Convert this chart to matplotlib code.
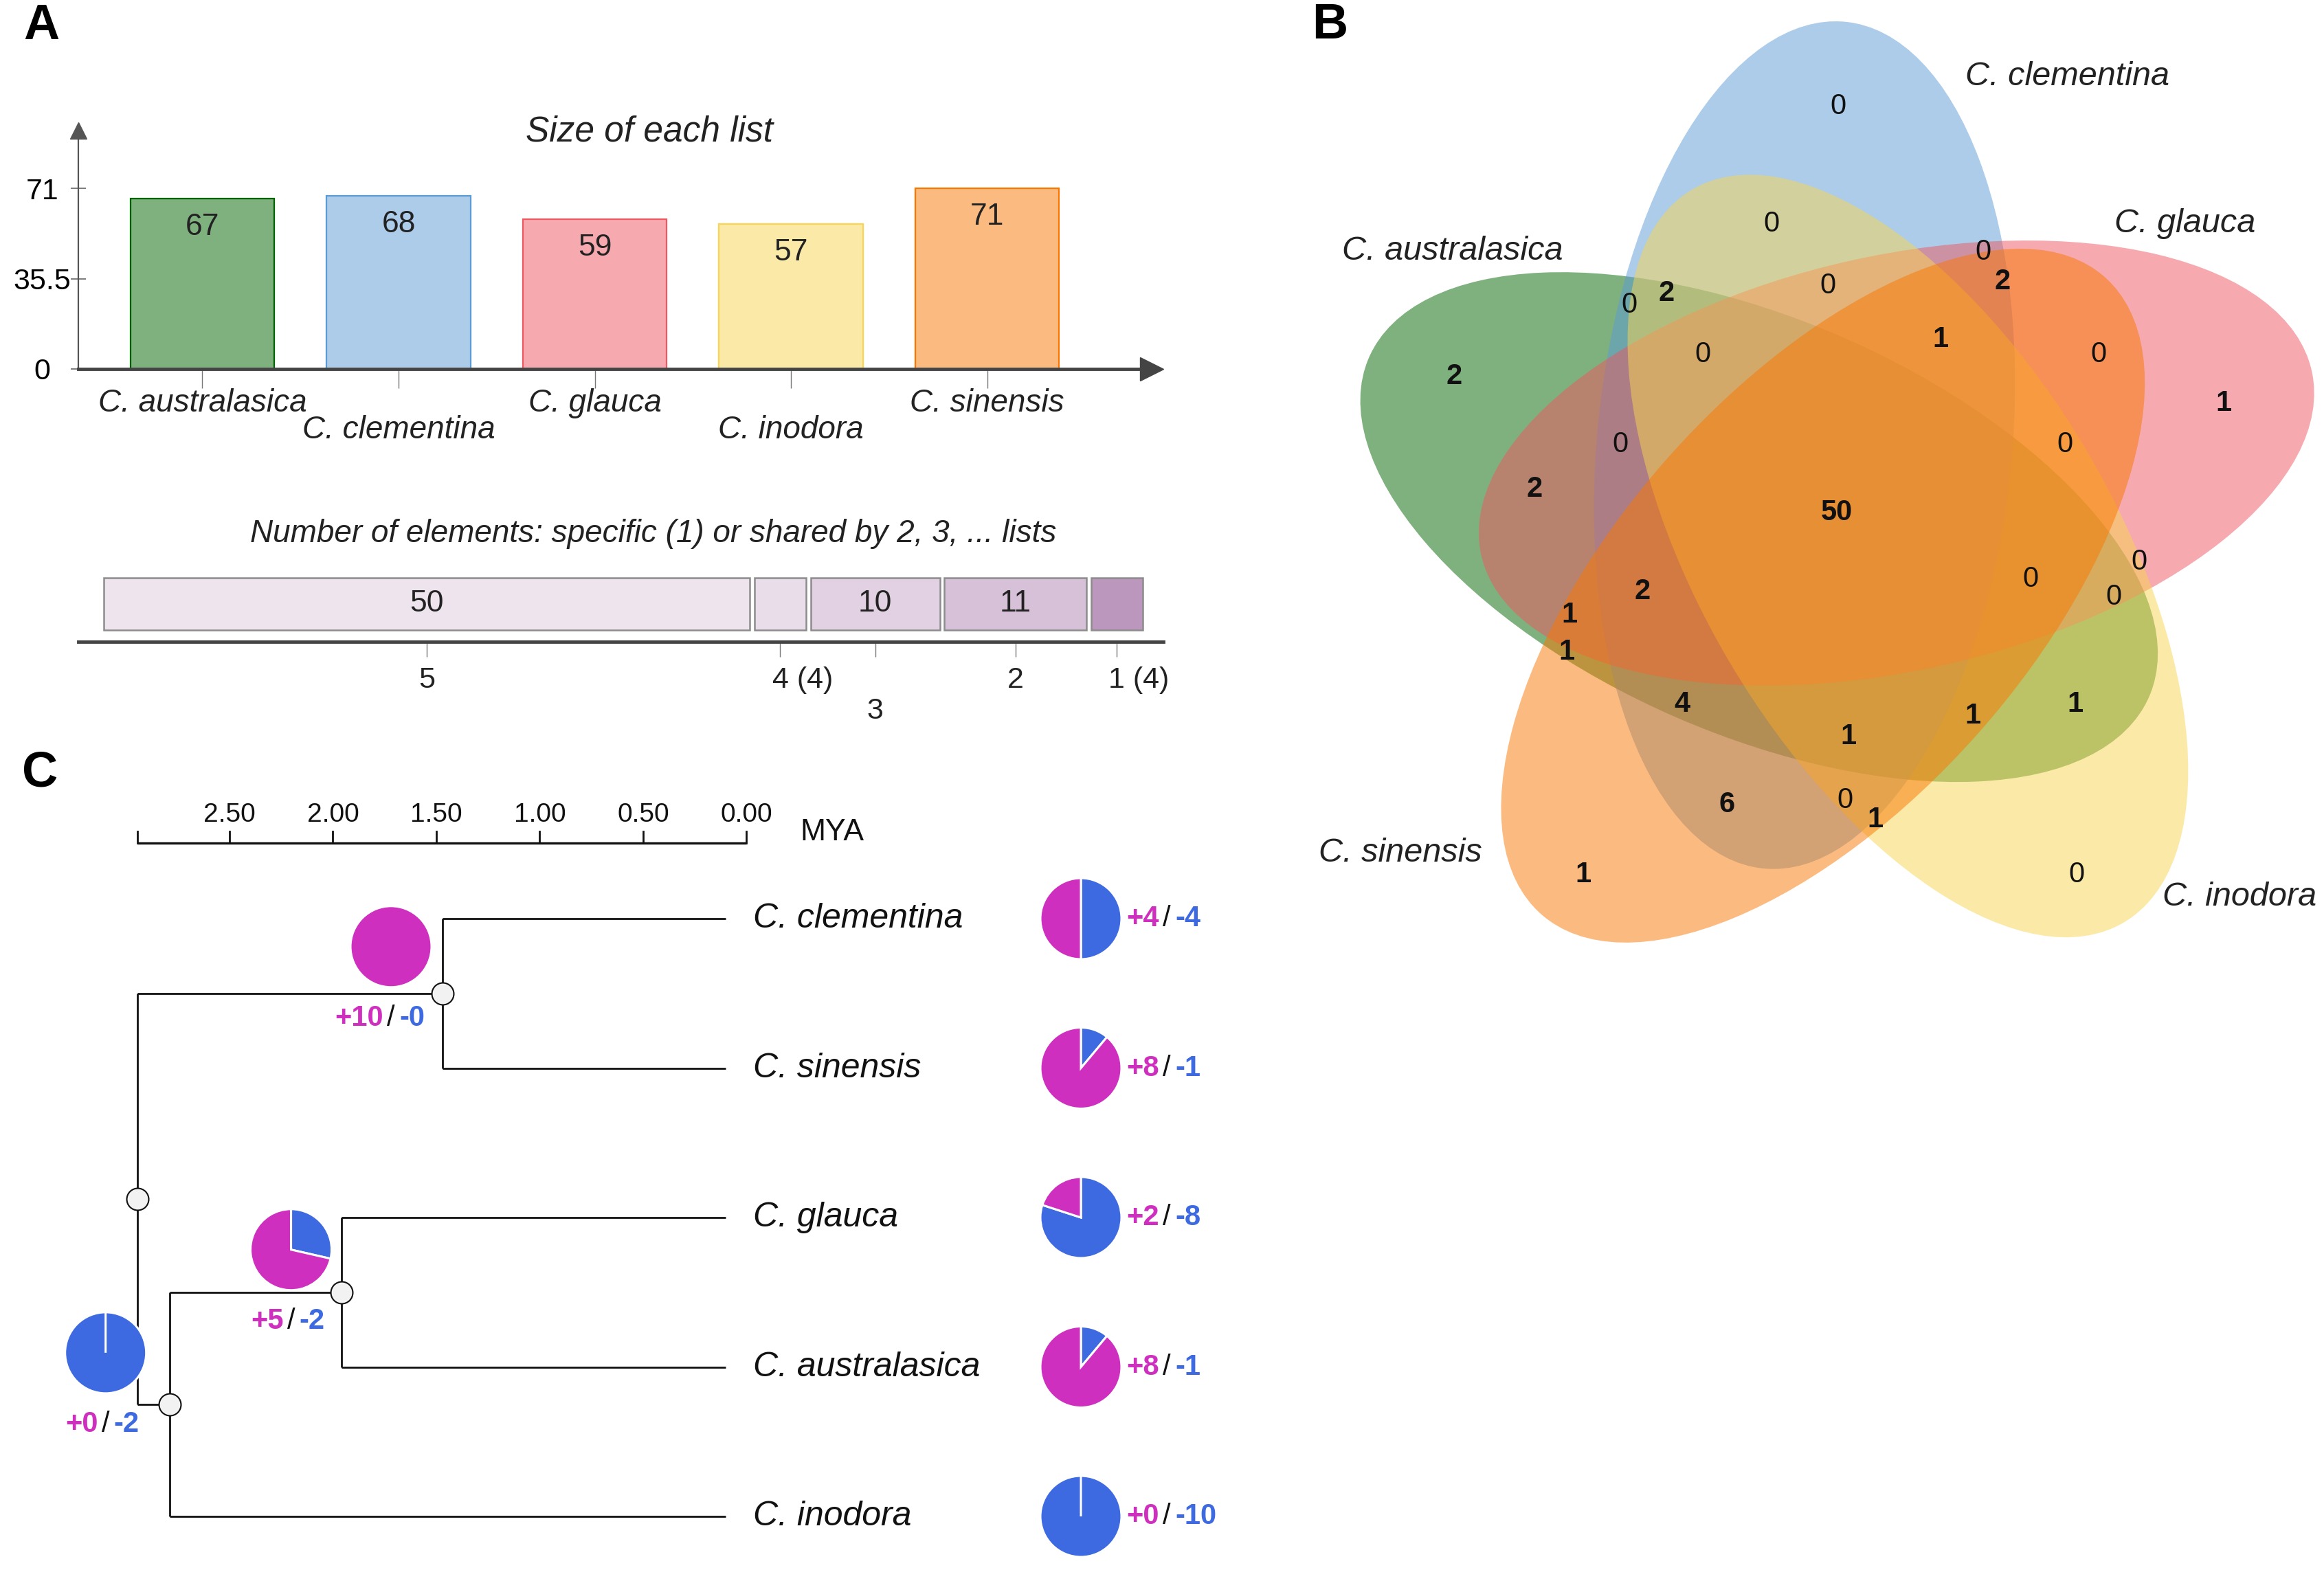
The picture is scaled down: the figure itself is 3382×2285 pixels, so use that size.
import numpy as np
import matplotlib
matplotlib.use("Agg")
import matplotlib.pyplot as plt
from matplotlib.patches import Ellipse
from matplotlib.colors import to_rgba

plt.rcParams['font.family'] = ['Liberation Sans', 'DejaVu Sans']

# ---------------- data ----------------
species = ["C. australasica", "C. clementina", "C. glauca", "C. inodora", "C. sinensis"]
list_sizes = [67, 68, 59, 57, 71]
set_colors = ["#006400", "#5B9BD5", "#EF5761", "#F9D551", "#F97700"]

shared_by = [5, 4, 3, 2, 1]
shared_counts = [50, 4, 10, 11, 4]
shared_colors = ["#EEE4EE", "#EADDEA", "#E1D1E2", "#D6C1D8", "#BB97BE"]

venn_counts = [0, 0, 0, 2, 0, 0, 2, 1, 0, 0, 2, 1, 0, 0, 2, 50,
               0, 0, 2, 0, 1, 1, 4, 1, 1, 1, 6, 0, 1, 1, 0]
# label positions in the picture (pixels from top-left)
venn_pos = [(2675, 155), (2578, 326), (2886, 367), (2914, 410), (2660, 416),
            (2371, 444), (2425, 427), (2824, 494), (2478, 516), (3054, 516),
            (2116, 548), (3236, 587), (2358, 647), (3005, 647), (2233, 712),
            (2673, 746), (3113, 818), (2955, 843), (2390, 861), (3076, 869),
            (2284, 895), (2280, 949), (2448, 1025), (3020, 1025), (2871, 1042),
            (2690, 1072), (2513, 1171), (2685, 1165), (2729, 1193), (2304, 1273),
            (3022, 1273)]
venn_label_pos = [(2114, 365), (3009, 112), (3180, 326), (3259, 1305), (2038, 1242)]

tree_leaves = ["C. clementina", "C. sinensis", "C. glauca", "C. australasica", "C. inodora"]
leaf_gain = [4, 8, 2, 8, 0]
leaf_loss = [4, 1, 8, 1, 10]
tree_nodes = {"CS": ("C. clementina", "C. sinensis"),
              "GA": ("C. glauca", "C. australasica"),
              "N2": ("GA", "C. inodora"),
              "root": ("CS", "N2")}
node_age = {"CS": 1.47, "GA": 1.96, "N2": 2.79, "root": 2.945}
node_gain = {"CS": 10, "GA": 5, "N2": 0}
node_loss = {"CS": 0, "GA": 2, "N2": 2}
scale_ticks = [2.5, 2.0, 1.5, 1.0, 0.5, 0.0]

W, H = 3382, 2285
fig = plt.figure(figsize=(W / 100, H / 100), dpi=100)


def px_axes(x0, y0, x1, y1):
    return fig.add_axes([x0 / W, 1 - y1 / H, (x1 - x0) / W, (y1 - y0) / H])


def ftext(x, y, s, **kw):
    return fig.text(x / W, 1 - y / H, s, **kw)


# panel letters
ftext(60, 38, "A", fontsize=52, fontweight="bold", ha="center", va="center")
ftext(1935, 37, "B", fontsize=52, fontweight="bold", ha="center", va="center")
ftext(58, 1126, "C", fontsize=52, fontweight="bold", ha="center", va="center")

# ---------------- A: list sizes ----------------
ax = px_axes(114, 190, 1676, 537)
xs = np.arange(len(species))
ax.bar(xs, list_sizes, width=0.733,
       color=[to_rgba(c, 0.5) for c in set_colors],
       edgecolor=set_colors, linewidth=1.6)
ax.set_xlim(-0.632, 4.838)
ax.set_ylim(0, 93.7)
for s in ["top", "right"]:
    ax.spines[s].set_visible(False)
ax.spines["bottom"].set_color("#444444")
ax.spines["bottom"].set_linewidth(3.5)
ax.spines["left"].set_color("#555555")
ax.spines["left"].set_linewidth(1.6)
ax.plot(1, 0, ">", transform=ax.transAxes, clip_on=False, ms=25, color="#444444")
ax.plot(0, 1, "^", transform=ax.transAxes, clip_on=False, ms=17, color="#555555")
ax.set_yticks([0, 35.5, 71])
ax.set_yticklabels(["0", "35.5", "71"], fontsize=31)
ax.tick_params(axis="y", direction="inout", length=16, width=1.2, color="#666666", pad=30)
for lbl in ax.get_yticklabels():
    lbl.set_ha("center")
ax.set_xticks(xs)
ax.set_xticklabels([])
ax.tick_params(axis="x", direction="out", length=20, width=1.0, color="#777777")
for i, (name, v) in enumerate(zip(species, list_sizes)):
    ax.annotate(str(v), (i, v), xytext=(0, -30), textcoords="offset points",
                ha="center", va="center", fontsize=32, color="#222222")
    dy = -36 if i % 2 == 0 else -64
    ax.annotate(name, (i, 0), xytext=(0, dy), textcoords="offset points",
                ha="center", va="center", fontsize=33, style="italic", color="#222222")
ftext(945, 192, "Size of each list", fontsize=37, style="italic", ha="center", va="center",
      color="#222222")

# ---------------- A: shared elements ----------------
ax2 = px_axes(114, 820, 1693, 934)
gap = 0.35
lefts = []
pos = 0.0
for c in shared_counts:
    lefts.append(pos)
    pos += c + gap
ax2.barh(0.4825, shared_counts, left=lefts, height=0.667, color=shared_colors,
         edgecolor="#8C8C8C", linewidth=1.8)
ax2.set_xlim(-1.97, 82.0)
ax2.set_ylim(0, 1)
for s in ["top", "right", "left"]:
    ax2.spines[s].set_visible(False)
ax2.spines["bottom"].set_color("#444444")
ax2.spines["bottom"].set_linewidth(3.5)
ax2.set_yticks([])
centers = [l + c / 2 for l, c in zip(lefts, shared_counts)]
ax2.set_xticks(centers)
ax2.set_xticklabels([])
ax2.tick_params(axis="x", direction="out", length=16, width=1.0, color="#777777")
stagger = [0, 0, 1, 0, 0]
for cx, n, c, st in zip(centers, shared_by, shared_counts, stagger):
    if c >= 5:
        ax2.text(cx, 0.4825, str(c), ha="center", va="center", fontsize=32, color="#222222")
        ax2.annotate(str(n), (cx, 0), xycoords=("data", "axes fraction"),
                     xytext=(0, -40 - 33 * st), textcoords="offset points",
                     ha="center", va="center", fontsize=31, color="#222222")
    else:
        ax2.annotate(f"{n} ({c})", (cx, 0), xycoords=("data", "axes fraction"),
                     xytext=(-8.6, -40 - 33 * st), textcoords="offset points",
                     ha="left", va="center", fontsize=31, color="#222222")
ftext(951, 777, "Number of elements: specific (1) or shared by 2, 3, ... lists", fontsize=33,
      style="italic", ha="center", va="center", color="#222222")

# ---------------- B: Venn ----------------
ax3 = px_axes(1880, 0, 3382, 1400)
ax3.set_xlim(1880, 3382)
ax3.set_ylim(H - 1400, H)
ax3.axis("off")
venn_center = (2675, H - 753)
shift, semi_a, semi_b = 116, 619, 302
major0, offdir0 = 84.5, 115.0
venn_slot = [4, 0, 1, 2, 3]
for color, k in zip(set_colors, venn_slot):
    od = np.radians(offdir0 - 72 * k)
    cx = venn_center[0] + shift * np.cos(od)
    cy = venn_center[1] + shift * np.sin(od)
    ax3.add_patch(Ellipse((cx, cy), 2 * semi_a, 2 * semi_b, angle=major0 - 72 * k,
                          facecolor=to_rgba(color, 0.5), edgecolor="none"))
for n, (x, y) in zip(venn_counts, venn_pos):
    ax3.text(x, H - y, str(n), ha="center", va="center", fontsize=30,
             fontweight="bold" if n > 0 else "normal", color="#111111")
for name, (x, y) in zip(species, venn_label_pos):
    ax3.text(x, H - y, name, ha="center", va="center", fontsize=35, style="italic",
             color="#222222")

# ---------------- C: tree ----------------
ax4 = px_axes(0, 1100, 1950, 2285)
ax4.set_xlim(3.6096, -2.8688)
ax4.set_ylim(4.3586, -1.0897)
ax4.axis("off")
tip_age = 0.1
ypos = {name: i for i, name in enumerate(tree_leaves)}
xpos = {name: tip_age for name in tree_leaves}


def place(node):
    if node in ypos:
        return ypos[node]
    ys = [place(ch) for ch in tree_nodes[node]]
    ypos[node] = np.mean(ys)
    xpos[node] = node_age[node]
    return ypos[node]


place("root")
for node, kids in tree_nodes.items():
    a = node_age[node]
    ax4.plot([a, a], [ypos[kids[0]], ypos[kids[1]]], color="#111111", lw=2.0,
             solid_capstyle="butt")
    for ch in kids:
        ax4.plot([a, xpos[ch]], [ypos[ch], ypos[ch]], color="#111111", lw=2.0,
                 solid_capstyle="butt")
for node in tree_nodes:
    ax4.plot(node_age[node], ypos[node], "o", ms=23, mfc="#F2F2F2", mec="#111111",
             mew=1.5, zorder=5)
for name in tree_leaves:
    ax4.text(-0.03, ypos[name], name, ha="left", va="center", fontsize=36, style="italic",
             color="#111111")

# scale bar
sy = -0.506
ax4.plot([xpos["root"], 0], [sy, sy], color="#111111", lw=2.4, solid_capstyle="butt")
for t in scale_ticks + [xpos["root"]]:
    ax4.plot([t, t], [sy, sy - 0.076], color="#111111", lw=2.0)
for t in scale_ticks:
    ax4.text(t, -0.694, f"{t:.2f}", ha="center", va="center", fontsize=28, color="#111111")
ax4.text(-0.26, -0.575, "MYA", ha="left", va="center", fontsize=32, color="#111111")

magenta, blue = "#CF2FBF", "#3D69E1"
R = 59


def to_px(x, y):
    dx, dy = ax4.transData.transform((x, y))
    return dx, H - dy


def draw_pie(cx, cy, gain, loss):
    axp = fig.add_axes([(cx - R) / W, 1 - (cy + R) / H, 2 * R / W, 2 * R / H])
    axp.pie([loss, gain], colors=[blue, magenta], startangle=90, counterclock=False,
            wedgeprops=dict(edgecolor="white", linewidth=2.2))
    axp.set_xlim(-1, 1)
    axp.set_ylim(-1, 1)
    axp.axis("off")


def gain_loss_text(xs_, y, gain, loss):
    ftext(xs_ - 11, y, f"+{gain}", ha="right", va="center", fontsize=30,
          fontweight="bold", color=magenta)
    ftext(xs_, y, "/", ha="center", va="center", fontsize=30, color="#111111")
    ftext(xs_ + 12, y, f"-{loss}", ha="left", va="center", fontsize=30,
          fontweight="bold", color=blue)


pie_offsets = {"CS": (-75, -68), "GA": (-73, -62), "N2": (-93, -75)}
for node, (ox, oy) in pie_offsets.items():
    nx, ny = to_px(node_age[node], ypos[node])
    cx, cy = nx + ox, ny + oy
    draw_pie(cx, cy, node_gain[node], node_loss[node])
    gain_loss_text(cx, cy + 104, node_gain[node], node_loss[node])

for i, name in enumerate(tree_leaves):
    _, ly = to_px(0, ypos[name])
    draw_pie(1573, ly, leaf_gain[i], leaf_loss[i])
    gain_loss_text(1698, ly, leaf_gain[i], leaf_loss[i])

fig.savefig("out.png", dpi=100)
